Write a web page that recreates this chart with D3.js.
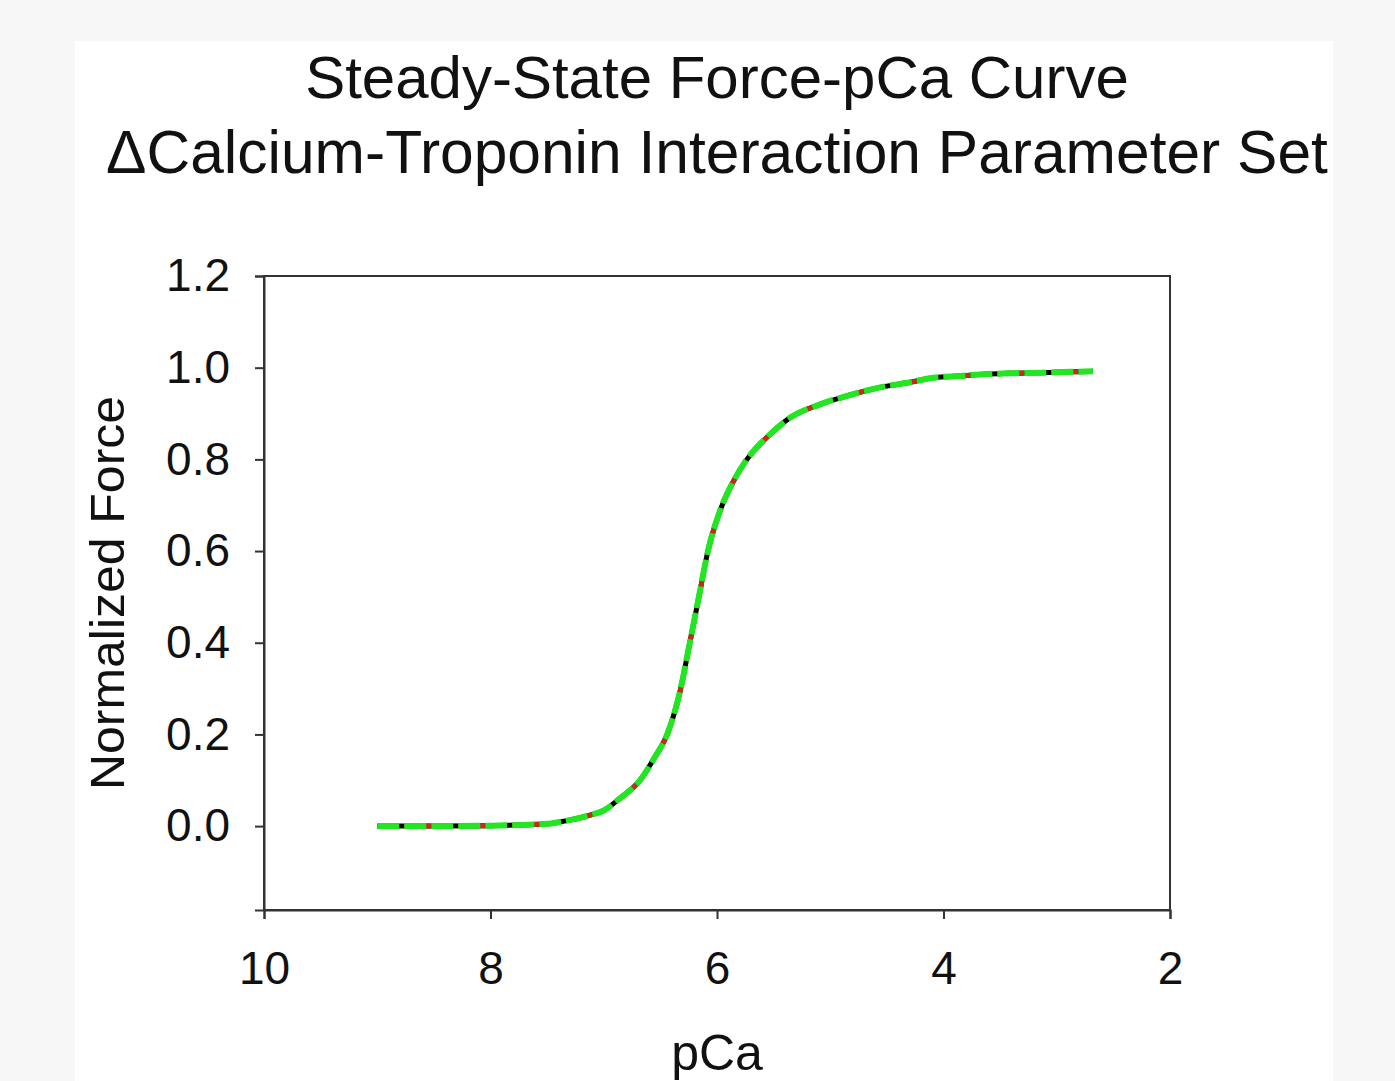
<!DOCTYPE html>
<html>
<head>
<meta charset="utf-8">
<script src="https://cdn.jsdelivr.net/npm/d3@7"></script>
<style>
  body { margin: 0; background: #f7f7f7; }
  svg { display: block; }
  text { font-family: "Liberation Sans", Arial, sans-serif; fill: #111; }
</style>
</head>
<body>
<script>
    const width = 1395;
    const height = 1081;

    // pCa values (left to right)
    const pCa = [9.0, 8.5, 8.0, 7.5, 7.39, 7.12, 7.0, 6.86, 6.68, 6.55, 6.44, 6.33, 6.24, 6.16, 6.08,
        5.97, 5.86, 5.75, 5.53, 5.36, 5.09, 4.83, 4.56, 4.32, 4.09, 3.85, 3.62, 3.37, 3.13, 2.88, 2.68];
    // three overlapping simulations
    const forceBlack = [0, 0, 0.001, 0.005, 0.009, 0.024, 0.034, 0.06, 0.10, 0.15, 0.20, 0.29, 0.40, 0.50, 0.60,
        0.69, 0.75, 0.795, 0.855, 0.89, 0.92, 0.94, 0.957, 0.967, 0.978, 0.982, 0.986, 0.988, 0.989, 0.991, 0.992];
    const forceRed = [0, 0, 0.001, 0.005, 0.009, 0.024, 0.034, 0.06, 0.10, 0.15, 0.20, 0.29, 0.40, 0.50, 0.60,
        0.69, 0.75, 0.795, 0.855, 0.89, 0.92, 0.94, 0.957, 0.967, 0.978, 0.982, 0.986, 0.988, 0.989, 0.991, 0.992];
    const forceGreen = [0, 0, 0.001, 0.005, 0.009, 0.024, 0.034, 0.06, 0.10, 0.15, 0.20, 0.29, 0.40, 0.50, 0.60,
        0.69, 0.75, 0.795, 0.855, 0.89, 0.92, 0.94, 0.957, 0.967, 0.978, 0.982, 0.986, 0.988, 0.989, 0.991, 0.992];

    const xTicks = [10, 8, 6, 4, 2];
    const yTicks = [0.0, 0.2, 0.4, 0.6, 0.8, 1.0, 1.2];
    const titleLines = ["Steady-State Force-pCa Curve", "\u0394Calcium-Troponin Interaction Parameter Set"];

    const plot = {left: 264, right: 1170, top: 276, bottom: 910};

    const x = d3.scaleLinear().domain([10, 2]).range([plot.left, plot.right]);
    const y = d3.scaleLinear().domain([-0.183, 1.2]).range([plot.bottom, plot.top]);

    const svg = d3.select("body")
        .append("svg")
        .attr("width", width)
        .attr("height", height);

    // white panel
    svg.append("rect")
        .attr("x", 75).attr("y", 41)
        .attr("width", 1258).attr("height", height - 41)
        .attr("fill", "#fff");

    // title
    svg.append("g")
        .selectAll("text")
        .data(titleLines)
        .join("text")
        .attr("x", 717)
        .attr("y", (d, i) => 98 + i * 75)
        .attr("text-anchor", "middle")
        .attr("font-size", (d, i) => i ? 60.5 : 60)
        .text(d => d);

    // frame
    svg.append("rect")
        .attr("x", plot.left).attr("y", plot.top)
        .attr("width", plot.right - plot.left).attr("height", plot.bottom - plot.top)
        .attr("fill", "none")
        .attr("stroke", "#333")
        .attr("stroke-width", 2);

    const xAxis = svg.append("g")
        .attr("transform", `translate(0,${plot.bottom})`)
        .call(d3.axisBottom(x).tickValues(xTicks).tickFormat(d3.format("d")).tickSize(9).tickPadding(32));

    const yAxis = svg.append("g")
        .attr("transform", `translate(${plot.left},0)`)
        .call(d3.axisLeft(y).tickValues(yTicks).tickFormat(d3.format(".1f")).tickSize(9).tickPadding(25));

    [xAxis, yAxis].forEach(a => {
        a.select(".domain").attr("stroke", "#333").attr("stroke-width", 2);
        a.selectAll(".tick line").attr("stroke", "#333").attr("stroke-width", 2);
        a.selectAll(".tick text")
            .attr("font-size", 46)
            .attr("font-family", "Liberation Sans, Arial, sans-serif")
            .attr("fill", "#111");
    });

    // axis titles
    svg.append("text")
        .attr("x", 717).attr("y", 1070)
        .attr("text-anchor", "middle")
        .attr("font-size", 50)
        .text("pCa");

    svg.append("text")
        .attr("transform", "translate(124,593) rotate(-90)")
        .attr("text-anchor", "middle")
        .attr("font-size", 48)
        .attr("textLength", 394)
        .attr("lengthAdjust", "spacingAndGlyphs")
        .text("Normalized Force");

    const line = d3.line().curve(d3.curveMonotoneX);
    const series = [
        {values: forceBlack, color: "#000", w: 5, dash: null, offset: 0},
        {values: forceRed, color: "#c8281e", w: 5, dash: "27,27", offset: 27},
        {values: forceGreen, color: "#22e622", w: 6, dash: "22,5", offset: 0}
    ];

    svg.append("g")
        .attr("fill", "none")
        .attr("stroke-linejoin", "round")
        .selectAll("path")
        .data(series)
        .join("path")
        .attr("stroke", d => d.color)
        .attr("stroke-width", d => d.w)
        .attr("stroke-dasharray", d => d.dash)
        .attr("stroke-dashoffset", d => d.offset)
        .attr("d", d => line(pCa.map((p, i) => [x(p), y(d.values[i])])));
</script>
</body>
</html>
